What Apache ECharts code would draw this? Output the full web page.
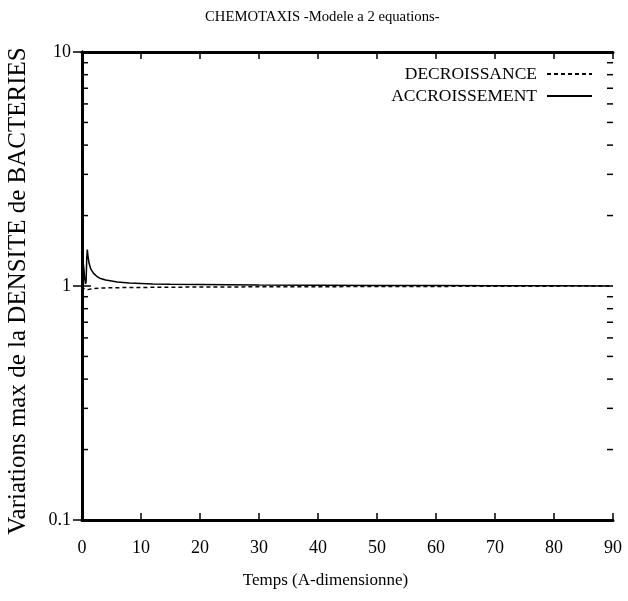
<!DOCTYPE html>
<html>
<head>
<meta charset="utf-8">
<script src="https://cdn.jsdelivr.net/npm/echarts@6/dist/echarts.min.js"></script>
<style>html,body{margin:0;padding:0;background:#fff}#c{width:628px;height:601px}</style>
</head>
<body>
<div id="c"></div>
<script>
const titleText = 'CHEMOTAXIS -Modele a 2 equations-';
const xName = 'Temps (A-dimensionne)';
const yName = 'Variations max de la DENSITE de BACTERIES';
const xTicks = [0, 10, 20, 30, 40, 50, 60, 70, 80, 90];
const yTicks = [0.1, 1, 10];
const yMinorTicks = [0.2, 0.3, 0.4, 0.5, 0.6, 0.7, 0.8, 0.9, 2, 3, 4, 5, 6, 7, 8, 9];

const accTimes = [0, 0.15, 0.3, 0.45, 0.6, 0.7, 0.8, 0.9, 1.0, 1.2, 1.5, 2, 2.5, 3, 4, 5, 6, 8, 10, 12, 15, 20, 25, 30, 40, 50, 60, 70, 80, 90];
const accValues = [1.15, 1.28, 1.2, 1.08, 1.02, 1.05, 1.3, 1.43, 1.35, 1.25, 1.18, 1.13, 1.1, 1.08, 1.06, 1.05, 1.04, 1.03, 1.025, 1.02, 1.017, 1.014, 1.012, 1.01, 1.008, 1.006, 1.005, 1.003, 1.002, 1.0];
const decTimes = [0, 0.3, 0.6, 1, 1.5, 2, 3, 5, 8, 12, 20, 30, 45, 60, 75, 90];
const decValues = [1.0, 0.975, 0.96, 0.965, 0.97, 0.975, 0.98, 0.983, 0.985, 0.987, 0.99, 0.992, 0.994, 0.996, 0.998, 1.0];

const F = 'Liberation Serif';
const chart = echarts.init(document.getElementById('c'));
const pair = (t, v) => t.map((x, i) => [x, v[i]]);

chart.setOption({
  animation: false,
  backgroundColor: '#fff',
  title: { text: titleText, left: 200, top: 5, textStyle: { fontFamily: F, fontSize: 14.7, fontWeight: 'normal', color: '#000' } },
  legend: {
    data: ['DECROISSANCE', 'ACCROISSEMENT'],
    orient: 'vertical', right: 30, top: 60, align: 'right',
    itemWidth: 45, itemHeight: 10, itemGap: 4,
    itemStyle: { opacity: 0 },
    textStyle: { fontFamily: F, fontSize: 17.5, color: '#000', padding: [0, 5, 0, 0] }
  },
  grid: { left: 82, right: 15, top: 52, bottom: 81, outerBoundsMode: 'none', containLabel: false },
  xAxis: [{
    type: 'value', min: 0, max: 90, interval: 10,
    name: xName, nameLocation: 'middle', nameGap: 52,
    nameTextStyle: { fontFamily: F, fontSize: 17, color: '#000', padding: [0, 44, 0, 0] },
    axisLine: { lineStyle: { color: '#000', width: 3 } },
    axisTick: { inside: true, length: 7, lineStyle: { color: '#000', width: 1.5 } },
    axisLabel: { fontFamily: F, fontSize: 18, color: '#000', margin: 19 },
    splitLine: { show: false }
  }, {
    type: 'value', min: 0, max: 90, interval: 10, position: 'top',
    axisLine: { lineStyle: { color: '#000', width: 3 } },
    axisTick: { inside: true, length: 7, lineStyle: { color: '#000', width: 1.5 } },
    axisLabel: { show: false }, splitLine: { show: false }
  }],
  yAxis: [{
    type: 'log', logBase: 10, min: 0.1, max: 10,
    name: yName, nameLocation: 'middle', nameGap: 51, nameRotate: 90,
    nameTextStyle: { fontFamily: F, fontSize: 25, color: '#000', padding: [0, 10, 0, 0] },
    axisLine: { lineStyle: { color: '#000', width: 3 } },
    axisTick: { inside: true, length: 9, lineStyle: { color: '#000', width: 1.5 } },
    axisLabel: { fontFamily: F, fontSize: 18, color: '#000', margin: 11 },
    splitLine: { show: false }
  }, {
    type: 'log', logBase: 10, min: 0.1, max: 10, position: 'right',
    axisLine: { lineStyle: { color: '#000', width: 3 } },
    axisTick: { inside: true, length: 9, lineStyle: { color: '#000', width: 1.5 } },
    axisLabel: { show: false }, splitLine: { show: false }
  }],
  series: [{
    name: 'DECROISSANCE', type: 'line', showSymbol: false, symbol: 'none', symbolSize: 0,
    data: pair(decTimes, decValues),
    lineStyle: { color: '#000', width: 1.5, type: [4, 3] },
    itemStyle: { color: '#000' }
  }, {
    name: 'ACCROISSEMENT', type: 'line', showSymbol: false, symbol: 'none', symbolSize: 0,
    data: pair(accTimes, accValues),
    lineStyle: { color: '#000', width: 1.5 },
    itemStyle: { color: '#000' }
  }, {
    name: 'minor', type: 'custom', silent: true, clip: false, z: 10,
    data: yMinorTicks.map(v => [0, v]),
    renderItem: function (params, api) {
      const v = api.value(1);
      const l = api.coord([0, v]);
      const r = api.coord([90, v]);
      return {
        type: 'group', children: [
          { type: 'line', shape: { x1: l[0], y1: l[1], x2: l[0] + 6, y2: l[1] }, style: { stroke: '#000', lineWidth: 1.5 } },
          { type: 'line', shape: { x1: r[0], y1: r[1], x2: r[0] - 6, y2: r[1] }, style: { stroke: '#000', lineWidth: 1.5 } }
        ]
      };
    }
  }]
});
</script>
</body>
</html>
